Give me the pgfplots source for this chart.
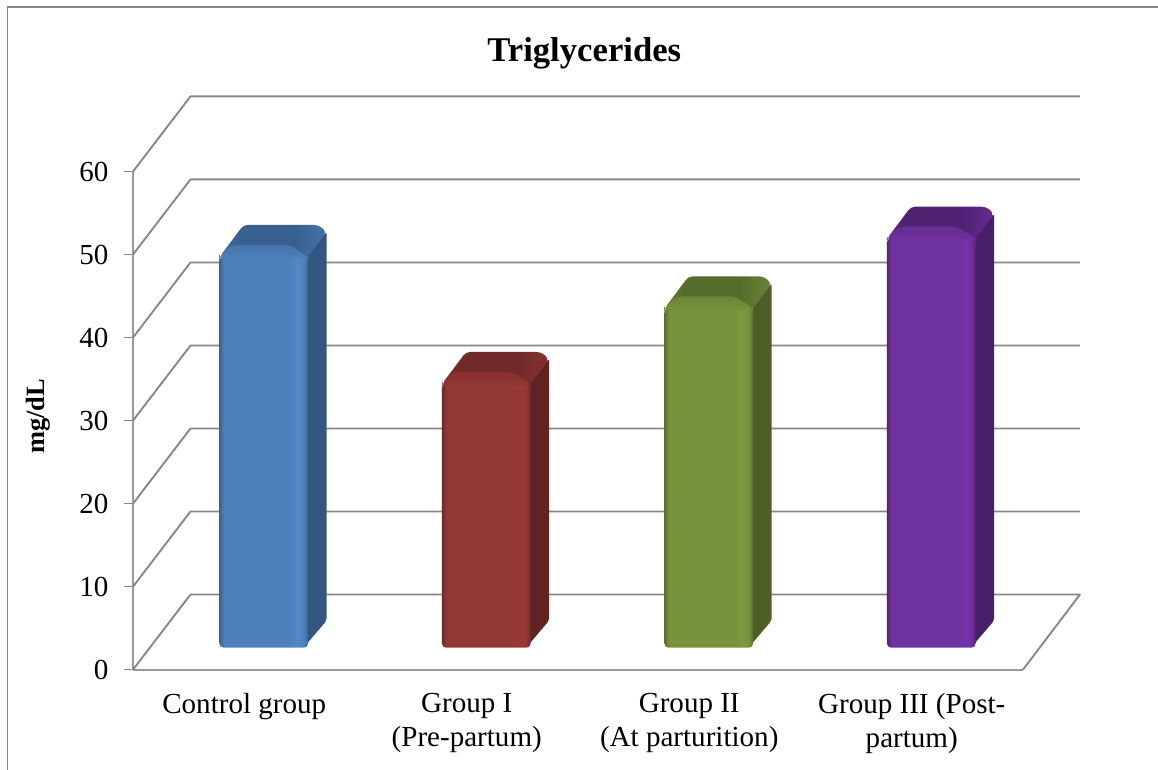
\documentclass[border=0pt]{standalone}
\usepackage{fontspec}
\setmainfont{Liberation Serif}
\usepackage{pgfplots}
\pgfplotsset{compat=1.18}
\definecolor{gridc}{HTML}{868686}
\definecolor{axisc}{HTML}{9A9A9A}
% bar colours: dark edge, main, light stripe
\definecolor{bd}{HTML}{39628F}\definecolor{bm}{HTML}{4E80BC}\definecolor{bl}{HTML}{548ACA}
\definecolor{rd}{HTML}{6F2A28}\definecolor{rm}{HTML}{933735}\definecolor{rl}{HTML}{9A3937}
\definecolor{gd}{HTML}{5A7030}\definecolor{gm}{HTML}{77933C}\definecolor{gl}{HTML}{7C9A3F}
\definecolor{pd}{HTML}{522475}\definecolor{pm}{HTML}{6F30A0}\definecolor{pl}{HTML}{7532A8}
\definecolor{bs}{HTML}{335680}\definecolor{rs}{HTML}{612321}\definecolor{gs}{HTML}{4D5F26}\definecolor{ps}{HTML}{461F69}
\definecolor{bt}{HTML}{38618F}\definecolor{rt}{HTML}{702A28}\definecolor{gt}{HTML}{566C2D}\definecolor{pt}{HTML}{4F2272}
\definecolor{bc}{HTML}{4674AA}\definecolor{rc}{HTML}{863230}\definecolor{gc}{HTML}{6C8536}\definecolor{pc}{HTML}{662C92}
\newcommand{\defshade}[4]{\pgfdeclarehorizontalshading{#1}{100bp}{color(0bp)=(#2); color(25bp)=(#2); color(27.5bp)=(#3); color(65bp)=(#3); color(69bp)=(#4); color(72.5bp)=(#3); color(75bp)=(#2); color(100bp)=(#2)}}
\newcommand{\deftop}[3]{\pgfdeclarehorizontalshading{#1}{100bp}{color(0bp)=(#2); color(25bp)=(#2); color(33bp)=(#3); color(60bp)=(#3); color(75bp)=(#2); color(100bp)=(#2)}}
\defshade{bfront}{bd}{bm}{bl}
\defshade{rfront}{rd}{rm}{rl}
\defshade{gfront}{gd}{gm}{gl}
\defshade{pfront}{pd}{pm}{pl}
\deftop{btop}{bc}{bt}
\deftop{rtop}{rc}{rt}
\deftop{gtop}{gc}{gt}
\deftop{ptop}{pc}{pt}
% #1 category, #2 value, #3 colour prefix
\newcommand{\tdbar}[3]{%
  \pgfmathsetmacro{\L}{#1+0.0876-0.199}%
  \pgfmathsetmacro{\R}{#1+0.0876+0.199}%
  \pgfmathsetmacro{\Bot}{2.65}%
  \pgfmathsetmacro{\T}{2.65+#2}%
  \pgfmathsetmacro{\Tc}{\T-12*0.12063}%
  % side
  \pgfmathsetmacro{\Rb}{\R+18.5*0.004494}%
  \pgfmathsetmacro{\Sb}{\Bot+27*0.12063}%
  \pgfmathsetmacro{\Rs}{\T+13*0.12063}%
  \pgfmathsetmacro{\Rin}{\R-0.02}%
  \addplot[draw=none,fill=#3s,rounded corners=1.5pt] coordinates {(\Rin,\Bot) (\Rb,\Sb) (\Rb,\Rs) (\Rin,\Tc)} -- cycle;
  % top
  \pgfmathsetmacro{\Lb}{\L+24*0.004494}%
  \pgfmathsetmacro{\Tb}{\T+20*0.12063}%
  \pgfmathsetmacro{\Rbb}{\Rb-8*0.004494}%
  \addplot[draw=none,rounded corners=3pt,shading=#3top] coordinates {(\L,\Tc) (\Lb,\Tb) (\Rbb,\Tb) (\Rb,\Rs) (\R,\Tc)} -- cycle;
  % front
  \addplot[draw=none,rounded corners=3pt,shading=#3front] coordinates {(\L,\Bot) (\L,\Tc) (\R,\Tc) (\R,\Bot)} -- cycle;
  % bevel
  \pgfmathsetmacro{\Tlb}{\L+12*0.004494}%
  \pgfmathsetmacro{\Trb}{\R-18*0.004494}%
  \pgfmathsetmacro{\Tlow}{\Tc-0.2}%
  \addplot[draw=none,rounded corners=3pt,top color=#3c,bottom color=#3m] coordinates {(\L,\Tlow) (\L,\Tc) (\Tlb,\T) (\Trb,\T) (\R,\Tc) (\R,\Tlow)} -- cycle;
}
\begin{document}
\begin{tikzpicture}
\useasboundingbox (0,0) rectangle (868.5pt,577.5pt);
\draw[gridc,line width=1.3pt] (5.6pt,0) -- (5.6pt,572.4pt) -- (868.5pt,572.4pt);
\begin{axis}[
  at={(99.75pt,75.25pt)},anchor=south west,
  scale only axis,width=667.5pt,height=373.6pt,
  xmin=-0.5,xmax=3.5,ymin=0,ymax=60,clip=false,
  axis x line*=bottom,axis y line*=left,
  axis line style={axisc,line width=1.6pt,-},
  xtick={0,1,2,3},
  xticklabels={Control group,{Group I\\(Pre-partum)},{Group II\\(At parturition)},{Group III (Post-\\partum)}},
  x tick style={draw=none},
  major tick length=6.75pt,
  ytick={0,10,20,30,40,50,60},
  y tick style={gridc,line width=1.2pt},
  tick align=outside,
  /pgf/number format/assume math mode=true,
  tick label style={font=\fontsize{21.8}{25.5}\selectfont},
  xticklabel style={align=center,anchor=north,yshift=-7.5pt},
  yticklabel style={anchor=east,inner sep=0pt,xshift=-11.5pt},
  title={\textbf{Triglycerides}},
  title style={at={(axis description cs:0.507,1.222)},anchor=center,font=\fontsize{26}{30}\selectfont},
  ylabel={\textbf{mg/dL}},
  ylabel style={at={(axis description cs:-0.1067,0.5085)},anchor=center,font=\fontsize{19.8}{23}\selectfont},
]
% back wall gridlines with side wall diagonals
\addplot[gridc,line width=1.4pt,line join=round] coordinates {(-0.5,60) (-0.2416,69.05) (3.756,69.05)};
\addplot[gridc,line width=1.4pt,line join=round] coordinates {(-0.5,50) (-0.2416,59.05) (3.756,59.05)};
\addplot[gridc,line width=1.4pt,line join=round] coordinates {(-0.5,40) (-0.2416,49.05) (3.756,49.05)};
\addplot[gridc,line width=1.4pt,line join=round] coordinates {(-0.5,30) (-0.2416,39.05) (3.756,39.05)};
\addplot[gridc,line width=1.4pt,line join=round] coordinates {(-0.5,20) (-0.2416,29.05) (3.756,29.05)};
\addplot[gridc,line width=1.4pt,line join=round] coordinates {(-0.5,10) (-0.2416,19.05) (3.756,19.05)};
% floor
\addplot[gridc,line width=1.4pt,line join=round] coordinates {(-0.5,0) (-0.2416,9.05) (3.756,9.05) (3.5,0)};
% bars
\tdbar{0}{48.5}{b}
\tdbar{1}{33.2}{r}
\tdbar{2}{42.3}{g}
\tdbar{3}{50.7}{p}
\end{axis}
\end{tikzpicture}
\end{document}
